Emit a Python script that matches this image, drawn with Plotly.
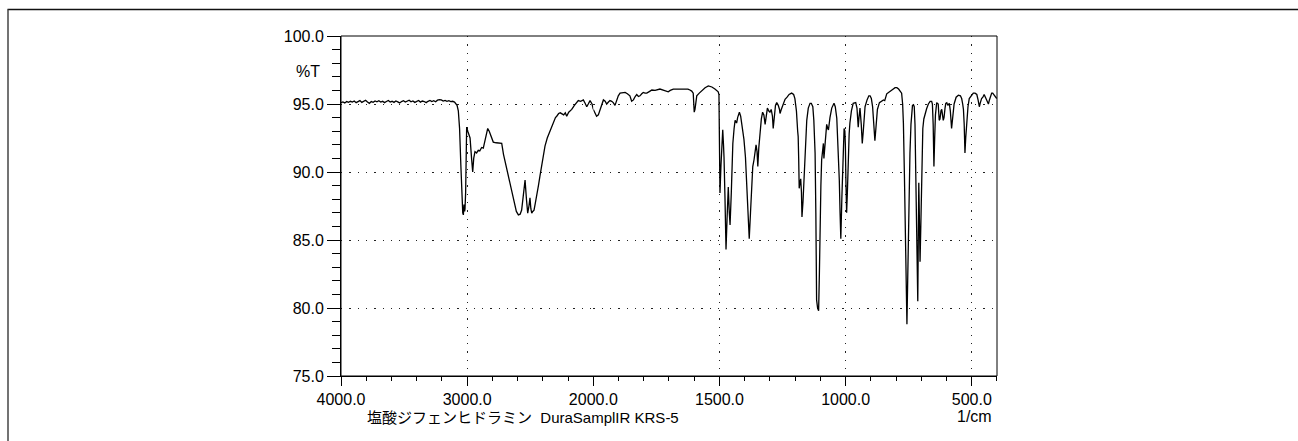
import plotly.graph_objects as go

# ---------------- data ----------------
wavenumber = [
    4000, 3985, 3970, 3955, 3940, 3925, 3910, 3895, 3880, 3865, 3850, 3835, 3820, 3805, 3790,
    3775, 3760, 3745, 3730, 3715, 3700, 3685, 3670, 3655, 3640, 3625, 3610, 3595, 3580, 3565,
    3550, 3535, 3520, 3505, 3490, 3475, 3460, 3445, 3430, 3415, 3400, 3385, 3370, 3355, 3340,
    3325, 3310, 3295, 3280, 3265, 3250, 3235, 3220, 3205, 3190, 3175, 3160, 3145, 3130, 3115,
    3100, 3090, 3080, 3070, 3060, 3050, 3042, 3035, 3030, 3025, 3020, 3017, 3012, 3008, 3004,
    2995, 2985, 2977, 2965, 2956, 2948, 2938, 2925, 2912, 2900, 2885, 2872, 2860, 2845, 2837,
    2825, 2810, 2793, 2770, 2745, 2726, 2712, 2700, 2686, 2665, 2647, 2625, 2610, 2594, 2580,
    2568, 2555, 2541, 2530, 2520, 2510, 2502, 2495, 2488, 2480, 2470, 2460, 2449, 2435, 2423,
    2405, 2383, 2365, 2343, 2320, 2300, 2290, 2275, 2262, 2250, 2235, 2222, 2211, 2195, 2171,
    2150, 2130, 2119, 2100, 2079, 2065, 2052, 2040, 2026, 2010, 2000, 1990, 1987, 1980, 1975,
    1967, 1960, 1953, 1947, 1940, 1934, 1927, 1921, 1914, 1908, 1901, 1894, 1881, 1874, 1865,
    1855, 1848, 1841, 1834, 1828, 1821, 1815, 1808, 1802, 1795, 1788, 1775, 1768, 1755, 1749,
    1736, 1720, 1709, 1703, 1695, 1683, 1669, 1656, 1640, 1625, 1617, 1610, 1604, 1600, 1597,
    1593, 1590, 1580, 1570, 1557, 1544, 1530, 1518, 1511, 1505, 1502, 1500, 1498, 1494, 1490,
    1487, 1484, 1482, 1478, 1474, 1470, 1468, 1465, 1461, 1458, 1453, 1447, 1442, 1438, 1435,
    1432, 1428, 1421, 1416, 1412, 1408, 1403, 1397, 1390, 1385, 1382, 1377, 1372, 1368, 1363,
    1359, 1355, 1351, 1348, 1344, 1339, 1334, 1329, 1324, 1319, 1315, 1310, 1305, 1300, 1295,
    1290, 1287, 1283, 1278, 1273, 1267, 1262, 1260, 1255, 1248, 1240, 1232, 1224, 1214, 1206,
    1201, 1195, 1190, 1188, 1186, 1184, 1181, 1178, 1175, 1173, 1169, 1165, 1160, 1154, 1148,
    1141, 1136, 1130, 1126, 1121, 1118, 1115, 1111, 1107, 1104, 1102, 1098, 1095, 1091, 1088,
    1086, 1082, 1078, 1075, 1071, 1068, 1062, 1055, 1046, 1041, 1035, 1030, 1025, 1022, 1019,
    1015, 1011, 1008, 1006, 1003, 1001, 999, 996, 993, 989, 986, 983, 977, 970, 965,
    960, 955, 950, 947, 943, 938, 934, 930, 926, 923, 915, 908, 903, 898, 893,
    888, 884, 880, 874, 866, 857, 850, 845, 837, 830, 824, 815, 804, 797, 790,
    784, 778, 774, 771, 767, 763, 760, 757, 754, 750, 748, 745, 741, 738, 735,
    731, 728, 725, 722, 718, 714, 712, 710, 708, 705, 702, 698, 694, 690, 685,
    679, 672, 665, 659, 656, 653, 650, 647, 644, 639, 633, 629, 626, 622, 619,
    613, 610, 606, 603, 599, 595, 589, 585, 580, 576, 570, 562, 553, 545, 540,
    536, 533, 530, 527, 524, 520, 515, 510, 500, 494, 487, 480, 475, 470, 466,
    461, 456, 451, 446, 441, 436, 434, 430, 425, 421, 417, 412, 408, 404, 401,
]
transmittance = [
    95.10, 95.15, 95.08, 95.18, 95.12, 95.20, 95.14, 95.22, 95.10, 95.18, 95.25, 95.12, 95.20, 95.28, 95.15,
    95.05, 95.18, 95.12, 95.22, 95.16, 95.24, 95.14, 95.20, 95.10, 95.18, 95.26, 95.14, 95.20, 95.12, 95.22,
    95.16, 95.08, 95.18, 95.24, 95.14, 95.20, 95.28, 95.16, 95.22, 95.12, 95.20, 95.26, 95.14, 95.22, 95.18,
    95.10, 95.20, 95.26, 95.18, 95.24, 95.16, 95.28, 95.32, 95.30, 95.22, 95.26, 95.20, 95.24, 95.18, 95.20,
    95.14, 95.05, 94.90, 94.50, 93.20, 90.50, 88.00, 87.00, 86.85, 87.60, 87.10, 87.30, 88.50, 91.50, 93.30,
    93.00, 92.60, 92.50, 91.00, 90.00, 91.00, 91.50, 91.40, 91.60, 91.55, 91.80, 91.75, 92.30, 92.90, 93.20,
    93.00, 92.60, 92.20, 92.15, 92.10, 92.10, 91.30, 90.80, 90.40, 89.50, 88.70, 87.70, 87.10, 86.85, 86.90,
    87.20, 88.30, 89.40, 88.00, 86.98, 87.50, 88.10, 87.30, 86.98, 87.10, 87.20, 87.70, 88.20, 89.00, 89.70,
    90.80, 91.90, 92.50, 93.00, 93.60, 94.00, 94.10, 94.30, 94.35, 94.30, 94.20, 94.35, 94.10, 94.40, 94.60,
    94.90, 95.10, 95.25, 95.20, 95.30, 95.05, 94.80, 95.00, 95.25, 95.00, 94.60, 94.20, 94.10, 94.20, 94.50,
    94.80, 95.30, 95.20, 95.00, 95.15, 95.25, 95.20, 95.10, 94.90, 95.30, 95.60, 95.80, 95.80, 95.85, 95.75,
    95.60, 95.20, 95.30, 95.55, 95.70, 95.55, 95.60, 95.75, 95.85, 95.80, 95.80, 95.95, 96.03, 96.00, 96.03,
    96.10, 96.00, 95.95, 95.90, 96.00, 96.10, 96.10, 96.10, 96.05, 96.10, 96.03, 95.95, 95.80, 94.40, 94.60,
    95.40, 95.60, 95.80, 96.00, 96.20, 96.33, 96.25, 96.10, 95.98, 95.90, 95.70, 93.50, 88.45, 90.50, 93.00,
    93.10, 92.00, 91.10, 88.00, 84.30, 86.50, 88.20, 88.90, 87.00, 86.10, 88.50, 92.10, 93.20, 93.80, 93.70,
    93.60, 94.00, 94.40, 94.10, 93.60, 93.00, 92.40, 91.10, 88.00, 85.80, 85.10, 87.00, 89.70, 90.40, 90.90,
    91.50, 92.00, 91.50, 90.40, 91.80, 93.10, 93.90, 94.40, 94.20, 93.50, 94.10, 94.70, 94.50, 94.40, 94.60,
    94.10, 93.20, 94.00, 94.90, 95.10, 94.90, 94.60, 94.30, 94.60, 95.00, 95.35, 95.50, 95.70, 95.80, 95.70,
    95.40, 94.50, 93.00, 92.60, 91.00, 88.80, 89.20, 89.50, 88.50, 86.70, 87.80, 89.20, 91.50, 93.80, 94.70,
    95.05, 95.05, 94.80, 93.80, 91.40, 87.00, 80.60, 80.00, 79.80, 82.50, 86.00, 89.00, 90.90, 91.90, 92.10,
    91.00, 92.00, 93.00, 93.50, 93.20, 93.10, 94.00, 94.70, 95.05, 94.80, 93.95, 92.00, 89.40, 87.00, 85.10,
    88.00, 90.90, 92.50, 93.20, 93.00, 92.00, 89.50, 87.00, 88.50, 91.40, 92.80, 93.60, 94.50, 95.05, 95.10,
    95.10, 94.70, 93.30, 94.00, 94.70, 93.50, 92.10, 93.00, 94.50, 94.80, 95.30, 95.60, 95.60, 95.40, 94.80,
    93.50, 92.30, 93.20, 94.60, 95.10, 95.20, 95.30, 95.25, 95.75, 95.85, 95.95, 96.05, 96.20, 96.20, 96.10,
    95.90, 95.80, 95.00, 93.60, 89.80, 85.30, 81.00, 78.80, 82.00, 86.50, 89.00, 91.40, 93.50, 94.70, 94.90,
    94.95, 94.80, 93.50, 90.00, 85.00, 80.50, 85.00, 89.20, 87.00, 83.40, 86.00, 91.40, 93.20, 93.90, 94.30,
    94.65, 95.00, 95.20, 95.20, 95.00, 93.50, 90.40, 92.50, 94.20, 95.10, 95.00, 93.80, 93.90, 94.50, 94.60,
    93.80, 94.00, 94.70, 95.05, 95.10, 94.90, 95.05, 94.50, 93.20, 94.00, 95.00, 95.50, 95.65, 95.60, 95.40,
    95.00, 94.60, 93.50, 91.40, 92.50, 93.60, 94.80, 95.40, 95.70, 95.80, 95.80, 95.70, 95.30, 94.80, 95.10,
    95.40, 95.50, 95.70, 95.50, 95.30, 95.10, 95.00, 95.30, 95.60, 95.80, 95.80, 95.70, 95.60, 95.50, 95.40,
]

x_major_high = [4000, 3000, 2000]
x_major_low = [1500, 1000, 500]
y_major = [75, 80, 85, 90, 95, 100]
y_label = "%T"
x_label = "1/cm"
sample_title = "塩酸ジフェンヒドラミン\u00a0\u00a0DuraSamplIR KRS-5"

# ---------------- geometry ----------------
W, H = 1298, 441
L, R, T, B = 341, 301, 36, 65
PW, PH = W - L - R, H - T - B
split = 2000 / 5200.0  # 4000-2000 uses half the scale of 2000-400


def px2paper_x(px):
    return (px - L) / PW


def py2paper_y(py):
    return (H - B - py) / PH


FONT = "Liberation Sans, Arial, Noto Sans CJK JP, sans-serif"

hi_w = [w for w in wavenumber if w >= 2000]
hi_t = [t for w, t in zip(wavenumber, transmittance) if w >= 2000]
lo_w = [w for w in wavenumber if w <= 2000]
lo_t = [t for w, t in zip(wavenumber, transmittance) if w <= 2000]

line_style = dict(color="#000000", width=1.3)

fig = go.Figure()
fig.add_trace(go.Scatter(x=hi_w, y=hi_t, mode="lines", line=line_style,
                         xaxis="x", yaxis="y", showlegend=False, hoverinfo="x+y"))
fig.add_trace(go.Scatter(x=lo_w, y=lo_t, mode="lines", line=line_style,
                         xaxis="x2", yaxis="y", showlegend=False, hoverinfo="x+y"))

grid_common = dict(showgrid=True, gridcolor="#222222", gridwidth=1, griddash="1.3px,7px")
tick_font = dict(family=FONT, size=16, color="#000000")

fig.update_layout(
    width=W, height=H,
    margin=dict(l=L, r=R, t=T, b=B, pad=0),
    paper_bgcolor="white", plot_bgcolor="white",
    font=dict(family=FONT, size=16, color="#000"),
    xaxis=dict(
        domain=[0, split], range=[4000, 2000], anchor="y",
        tickmode="array", tickvals=x_major_high,
        ticktext=[f"{v:.1f}" for v in x_major_high],
        ticks="outside", ticklen=9, tickwidth=1, tickcolor="#000",
        showline=True, linecolor="#000", linewidth=1,
        minor=dict(dtick=200, tick0=4000, ticks="outside", ticklen=4, tickwidth=1,
                   tickcolor="#000", showgrid=False),
        tickfont=tick_font, zeroline=False, **grid_common,
    ),
    xaxis2=dict(
        domain=[split, 1], range=[2000, 400], anchor="y",
        tickmode="array", tickvals=x_major_low,
        ticktext=[f"{v:.1f}" for v in x_major_low],
        ticks="outside", ticklen=9, tickwidth=1, tickcolor="#000",
        showline=True, linecolor="#000", linewidth=1,
        minor=dict(dtick=100, tick0=2000, ticks="outside", ticklen=4, tickwidth=1,
                   tickcolor="#000", showgrid=False),
        tickfont=tick_font, zeroline=False, **grid_common,
    ),
    yaxis=dict(
        range=[75, 100], anchor="x",
        tickmode="array", tickvals=y_major,
        ticktext=[f"{v:.1f}" for v in y_major],
        ticks="outside", ticklen=13, tickwidth=1, tickcolor="#000",
        showline=True, linecolor="#000", linewidth=1,
        minor=dict(dtick=1, tick0=75, ticks="outside", ticklen=8, tickwidth=1,
                   tickcolor="#000", showgrid=False),
        tickfont=tick_font, zeroline=False, **grid_common,
    ),
    shapes=[
        # plot box
        dict(type="rect", xref="paper", yref="paper", x0=0, x1=1, y0=0, y1=1,
             line=dict(color="#000", width=1), layer="above"),
        # outer frame (top and left edges)
        dict(type="line", xref="paper", yref="paper",
             x0=px2paper_x(7.5), x1=px2paper_x(1300), y0=py2paper_y(9.5), y1=py2paper_y(9.5),
             line=dict(color="#111", width=1.5)),
        dict(type="line", xref="paper", yref="paper",
             x0=px2paper_x(8), x1=px2paper_x(8), y0=py2paper_y(9.5), y1=py2paper_y(445),
             line=dict(color="#444", width=1.5)),
    ],
    annotations=[
        dict(text=y_label, xref="paper", yref="paper", x=px2paper_x(322), y=py2paper_y(72),
             xanchor="right", yanchor="middle", showarrow=False,
             font=dict(family=FONT, size=16, color="#000")),
        dict(text=x_label, xref="paper", yref="paper", x=px2paper_x(994), y=py2paper_y(416),
             xanchor="right", yanchor="middle", showarrow=False,
             font=dict(family=FONT, size=16, color="#000")),
        dict(text=sample_title, xref="paper", yref="paper", x=px2paper_x(365), y=py2paper_y(417),
             xanchor="left", yanchor="middle", showarrow=False,
             font=dict(family=FONT, size=15, color="#000")),
    ],
)

fig.write_html("out.html",
               config={"displayModeBar": False},
               post_script="document.body.style.margin='0';document.body.style.overflow='hidden';")
